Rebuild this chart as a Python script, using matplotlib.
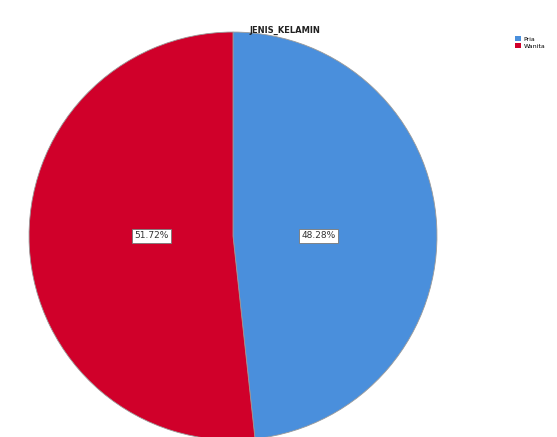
import matplotlib
matplotlib.use("Agg")
import matplotlib.pyplot as plt
from matplotlib.patches import Patch

categories = ["Pria", "Wanita"]
values = [48.28, 51.72]
colors = ["#4a8fdc", "#d0002a"]

W, H = 557, 437
fig = plt.figure(figsize=(W / 100, H / 100), dpi=100)
fig.patch.set_facecolor("white")

cx, cy, r = 233, 236, 206
ax = fig.add_axes([(cx - r) / W, (H - cy - r) / H, 2 * r / W, 2 * r / H])
wedges, texts, autotexts = ax.pie(
    values, colors=colors, startangle=90, counterclock=False,
    autopct="%1.2f%%", pctdistance=0.42, radius=1.0,
    wedgeprops=dict(edgecolor="#9a9a9a", linewidth=0.6),
    textprops=dict(fontsize=6.5, color="#333333"),
)
label_x = [0.42, -0.40]
for t, lx in zip(autotexts, label_x):
    t.set_position((lx, 0.0))
    t.set_bbox(dict(facecolor="white", edgecolor="#777777", linewidth=0.6, pad=1.5))
ax.set_xlim(-1.01, 1.01)
ax.set_ylim(-1.01, 1.01)
ax.set_aspect("equal")
ax.axis("off")

fig.text(285 / W, 1 - 30 / H, "JENIS_KELAMIN", ha="center", va="center",
         fontsize=6, fontweight="bold", color="#222222")

handles = [Patch(facecolor=c, edgecolor="none") for c in colors]
fig.legend(handles, categories, loc="upper left", bbox_to_anchor=(512 / W, 1 - 33 / H),
           fontsize=4.5, frameon=False, handlelength=1.0, handleheight=0.9,
           handletextpad=0.4, labelspacing=0.2, borderpad=0.0)

fig.savefig("out.png", dpi=100, facecolor="white")
